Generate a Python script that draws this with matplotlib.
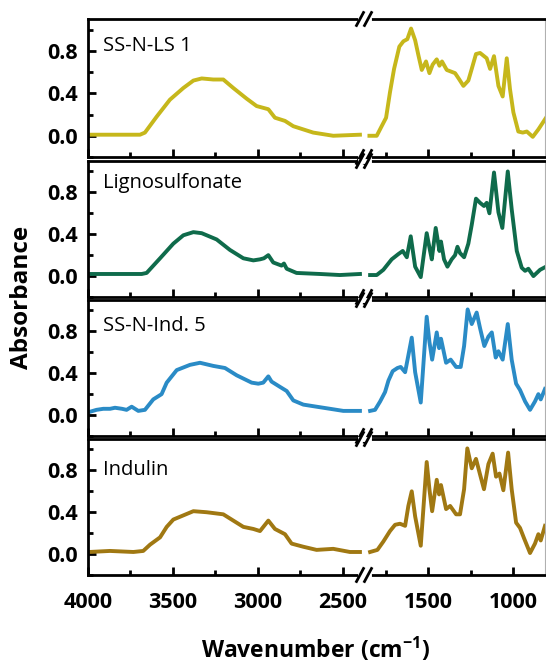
import numpy as np
import matplotlib
matplotlib.use('Agg')
import matplotlib.pyplot as plt
from matplotlib.lines import Line2D
from matplotlib.ticker import MultipleLocator

plt.rcParams['font.family'] = ['Open Sans', 'DejaVu Sans']
plt.rcParams['mathtext.fontset'] = 'custom'
plt.rcParams['mathtext.rm'] = 'Open Sans'
plt.rcParams['mathtext.bf'] = 'Open Sans:bold'

# sample names and colours (top to bottom)
names = ['SS-N-LS 1', 'Lignosulfonate', 'SS-N-Ind. 5', 'Indulin']
colors = ['#c6b71b', '#0f6b4b', '#2a8bc6', '#a07812']

# high wavenumber side (4000-2400 cm-1)
ls1_hi_wn = [3992, 3694, 3665, 3596, 3518, 3439, 3380, 3331, 3263, 3204, 3145, 3067,
             3008, 2939, 2900, 2841, 2792, 2675, 2557, 2400]
ls1_hi = [0.01, 0.01, 0.03, 0.18, 0.34, 0.45, 0.52, 0.54, 0.53, 0.53, 0.45, 0.35,
          0.28, 0.25, 0.17, 0.14, 0.09, 0.03, 0.0, 0.01]

lig_hi_wn = [3992, 3684, 3655, 3576, 3498, 3439, 3380, 3331, 3243, 3165, 3086, 3027,
             2988, 2965, 2939, 2910, 2861, 2847, 2831, 2773, 2635, 2518, 2400]
lig_hi = [0.02, 0.02, 0.03, 0.17, 0.31, 0.39, 0.42, 0.41, 0.35, 0.25, 0.17, 0.15,
          0.16, 0.17, 0.2, 0.13, 0.10, 0.12, 0.07, 0.03, 0.02, 0.01, 0.02]

ind5_hi_wn = [3992, 3950, 3910, 3870, 3841, 3800, 3773, 3743, 3704, 3665, 3616, 3567,
              3537, 3478, 3400, 3341, 3263, 3194, 3125, 3037, 2998, 2969, 2939, 2920,
              2871, 2831, 2792, 2733, 2655, 2576, 2498, 2400]
ind5_hi = [0.03, 0.05, 0.06, 0.06, 0.07, 0.06, 0.05, 0.08, 0.04, 0.05, 0.15, 0.2,
           0.31, 0.43, 0.48, 0.5, 0.47, 0.45, 0.38, 0.31, 0.3, 0.31, 0.37, 0.32,
           0.27, 0.23, 0.14, 0.1, 0.08, 0.06, 0.04, 0.04]

ind_hi_wn = [3992, 3871, 3733, 3675, 3635, 3576, 3537, 3498, 3439, 3380, 3302, 3204,
             3145, 3086, 3027, 2988, 2939, 2900, 2841, 2802, 2733, 2655, 2557, 2459, 2400]
ind_hi = [0.02, 0.03, 0.02, 0.03, 0.09, 0.16, 0.26, 0.33, 0.37, 0.41, 0.4, 0.38,
          0.32, 0.26, 0.24, 0.22, 0.32, 0.24, 0.19, 0.1, 0.07, 0.04, 0.05, 0.02, 0.02]

# fingerprint side (1850-800 cm-1)
ls1_lo_wn = [1845, 1802, 1773, 1747, 1724, 1700, 1669, 1645, 1622, 1600, 1576, 1557,
             1537, 1512, 1492, 1473, 1449, 1433, 1418, 1390, 1341, 1316, 1292, 1263,
             1243, 1218, 1194, 1155, 1135, 1112, 1086, 1061, 1037, 1018, 998, 969,
             943, 919, 884, 851, 806]
ls1_lo = [0.0, 0.0, 0.09, 0.17, 0.41, 0.63, 0.84, 0.89, 0.91, 1.01, 0.9, 0.76,
          0.62, 0.7, 0.59, 0.67, 0.72, 0.66, 0.7, 0.62, 0.59, 0.53, 0.47, 0.52,
          0.63, 0.77, 0.78, 0.73, 0.63, 0.75, 0.47, 0.37, 0.73, 0.44, 0.22, 0.04,
          0.03, 0.04, -0.01, 0.06, 0.17]

lig_lo_wn = [1841, 1802, 1763, 1714, 1675, 1649, 1625, 1602, 1576, 1543, 1508, 1488,
             1478, 1455, 1433, 1424, 1406, 1386, 1361, 1341, 1327, 1312, 1288, 1263,
             1243, 1218, 1194, 1171, 1155, 1139, 1112, 1086, 1063, 1031, 1008, 978,
             949, 929, 910, 880, 841, 806]
lig_lo = [0.01, 0.01, 0.06, 0.16, 0.21, 0.24, 0.18, 0.38, 0.09, -0.01, 0.41, 0.24,
          0.16, 0.46, 0.24, 0.33, 0.16, 0.09, 0.16, 0.2, 0.28, 0.22, 0.18, 0.31,
          0.49, 0.74, 0.7, 0.67, 0.7, 0.6, 0.99, 0.61, 0.46, 1.0, 0.64, 0.24,
          0.08, 0.05, 0.07, 0.0, 0.06, 0.09]

ind5_lo_wn = [1841, 1812, 1782, 1753, 1733, 1708, 1680, 1661, 1635, 1616, 1596, 1576,
              1543, 1508, 1492, 1476, 1449, 1435, 1424, 1394, 1367, 1335, 1308, 1288,
              1267, 1243, 1214, 1194, 1169, 1145, 1125, 1102, 1086, 1061, 1031, 1008,
              982, 959, 929, 900, 871, 851, 837, 812]
ind5_lo = [0.04, 0.05, 0.13, 0.22, 0.33, 0.42, 0.45, 0.46, 0.41, 0.57, 0.74, 0.41,
           0.12, 0.94, 0.7, 0.53, 0.79, 0.64, 0.73, 0.5, 0.53, 0.46, 0.46, 0.66,
           1.01, 0.87, 0.98, 0.83, 0.66, 0.75, 0.79, 0.55, 0.61, 0.53, 0.87, 0.53,
           0.3, 0.24, 0.13, 0.05, 0.13, 0.2, 0.15, 0.25]

ind_lo_wn = [1841, 1798, 1763, 1724, 1694, 1665, 1635, 1616, 1596, 1576, 1543, 1508,
             1492, 1476, 1449, 1435, 1424, 1394, 1370, 1335, 1312, 1288, 1269, 1243,
             1218, 1194, 1171, 1145, 1120, 1100, 1080, 1057, 1029, 1008, 982, 959,
             935, 900, 871, 851, 837, 812]
ind_lo = [0.02, 0.04, 0.12, 0.22, 0.28, 0.29, 0.27, 0.46, 0.6, 0.36, 0.08, 0.88,
          0.62, 0.41, 0.71, 0.57, 0.66, 0.43, 0.46, 0.38, 0.38, 0.62, 1.01, 0.82,
          0.91, 0.76, 0.62, 0.86, 0.96, 0.74, 0.77, 0.61, 0.97, 0.62, 0.3, 0.25,
          0.15, 0.01, 0.1, 0.19, 0.13, 0.27]

hi_wn = [ls1_hi_wn, lig_hi_wn, ind5_hi_wn, ind_hi_wn]
hi_val = [ls1_hi, lig_hi, ind5_hi, ind_hi]
lo_wn = [ls1_lo_wn, lig_lo_wn, ind5_lo_wn, ind_lo_wn]
lo_val = [ls1_lo, lig_lo, ind5_lo, ind_lo]
label_y = [0.77, 0.80, 0.775, 0.735]

W, H = 546, 668
fig = plt.figure(figsize=(W / 100, H / 100), dpi=100)

# panel boxes in pixels (top, bottom)
rows = [(19, 157), (161, 297), (300, 436), (439, 575)]
xl0, xl1 = 88, 363   # left segment
xr0, xr1 = 365, 545  # right segment

def px_box(x0, x1, y0, y1):
    return [x0 / W, 1 - y1 / H, (x1 - x0) / W, (y1 - y0) / H]

for i, (yt, yb) in enumerate(rows):
    axl = fig.add_axes(px_box(xl0, xl1, yt, yb))
    axr = fig.add_axes(px_box(xr0, xr1, yt, yb))
    axl.plot(hi_wn[i], hi_val[i], color=colors[i], lw=2.8, solid_joinstyle='round')
    axr.plot(lo_wn[i], lo_val[i], color=colors[i], lw=2.8, solid_joinstyle='round')
    axl.set_xlim(4000, 2382)
    axr.set_xlim(1871, 812)
    for ax in (axl, axr):
        ax.set_ylim(-0.2, 1.1)
        for s in ax.spines.values():
            s.set_linewidth(2)
        ax.tick_params(axis='both', which='both', direction='in', width=2,
                       top=False, right=False)
        ax.tick_params(which='major', length=6)
        ax.tick_params(which='minor', length=3.5)
    axl.spines['right'].set_visible(False)
    axr.spines['left'].set_visible(False)
    axr.spines['right'].set_color('#b0b0b0')
    axr.spines['right'].set_linewidth(0.8)
    axl.set_xticks([4000, 3500, 3000, 2500])
    axl.xaxis.set_minor_locator(MultipleLocator(250))
    axr.set_xticks([1500, 1000])
    axr.xaxis.set_minor_locator(MultipleLocator(250))
    axl.set_yticks([0.0, 0.4, 0.8])
    axl.set_yticklabels(['0.0', '0.4', '0.8'])
    axl.yaxis.set_minor_locator(MultipleLocator(0.2))
    axr.set_yticks([])
    axr.yaxis.set_minor_locator(plt.NullLocator())
    axl.tick_params(axis='y', labelsize=15.5, pad=7)
    for lab in axl.get_yticklabels():
        lab.set_fontweight('bold')
    if i < 3:
        axl.set_xticklabels([])
        axr.set_xticklabels([])
    else:
        axl.tick_params(axis='x', labelsize=15.5, pad=12)
        axr.tick_params(axis='x', labelsize=15.5, pad=12)
        for lab in axl.get_xticklabels() + axr.get_xticklabels():
            lab.set_fontweight('bold')
    axl.text(0.053, label_y[i], names[i], transform=axl.transAxes,
             fontsize=14.5, va='baseline', ha='left')

    # axis break marks on top and bottom spines
    for yy in (yt, yb):
        fy = 1 - yy / H
        fig.add_artist(Line2D([360 / W, 369 / W], [fy, fy], color='white', lw=3.5))
        for xc in (360, 368):
            fig.add_artist(Line2D([(xc - 3.5) / W, (xc + 3.5) / W],
                                  [fy - 6.5 / H, fy + 6.5 / H],
                                  color='black', lw=2))

fig.text(22 / W, 1 - 297 / H, 'Absorbance', rotation=90, ha='center', va='center',
         fontsize=17.5, fontweight='bold')
fig.text(316 / W, 1 - 650 / H, 'Wavenumber (cm$^{\\mathbf{-1}}$)', ha='center',
         va='center', fontsize=16.5, fontweight='bold')

fig.savefig('out.png', dpi=100)
